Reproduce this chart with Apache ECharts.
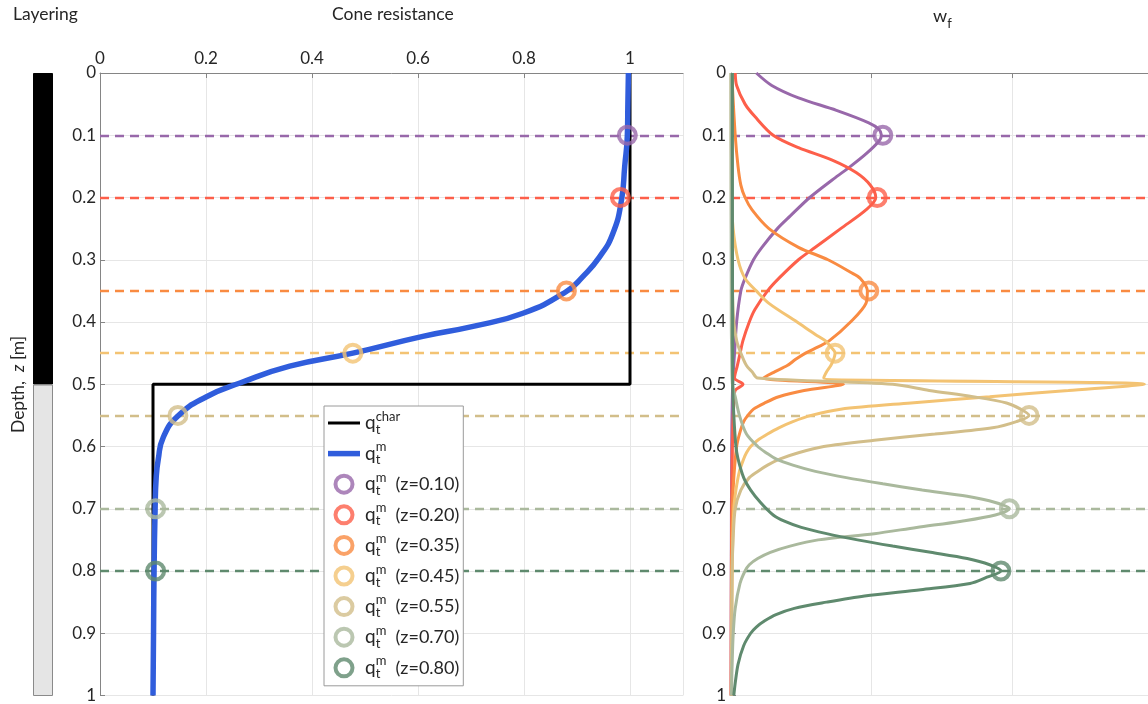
<!DOCTYPE html>
<html><head><meta charset="utf-8">
<script src="https://cdn.jsdelivr.net/npm/echarts@6/dist/echarts.min.js"></script>
<style>html,body{margin:0;padding:0;background:#fff}#c{width:1148px;height:704px}</style>
</head><body><div id="c"></div>
<script>
const FONT = 'Lato, "Open Sans", sans-serif';
const TXT = '#262626';

// ---- Layering (soil layers)
const layerThickness = [0.5, 0.5];
const layerColors = ['#000000', '#e5e5e5'];

// ---- Cone resistance: characteristic profile
const qCharDepth = [0, 0.5, 0.5, 1];
const qCharValue = [1, 1, 0.1, 0.1];

// ---- Cone resistance: measured profile
const qmDepth = [0, 0.05, 0.1, 0.15, 0.204, 0.257, 0.295, 0.327, 0.351, 0.386, 0.407, 0.423, 0.45, 0.471, 0.498, 0.52, 0.551, 0.586, 0.62, 0.65, 0.7, 0.8, 0.9, 1.0];
const qmValue = [0.997, 0.996, 0.995, 0.99, 0.984, 0.968, 0.943, 0.911, 0.880, 0.798, 0.704, 0.609, 0.477, 0.358, 0.264, 0.201, 0.147, 0.119, 0.110, 0.106, 0.104, 0.102, 0.101, 0.100];

// ---- Evaluation depths (markers + dashed lines)
const markerDepth = [0.10, 0.20, 0.35, 0.45, 0.55, 0.70, 0.80];
const markerLabels = ['0.10', '0.20', '0.35', '0.45', '0.55', '0.70', '0.80'];
const markerColors = ['#9868aa', '#fd5f4a', '#f98b42', '#f3c373', '#d2be8a', '#aab99d', '#5f8a6e'];
const markerQm = [0.995, 0.982, 0.880, 0.477, 0.147, 0.105, 0.105];
const markerWf = [1.08, 1.04, 0.98, 0.74, 2.12, 1.98, 1.92];

// ---- Weight functions w_f
const wfDepth010 = [0, 0.02, 0.04, 0.06, 0.08, 0.09, 0.1, 0.11, 0.13, 0.15, 0.17, 0.2, 0.23, 0.25, 0.28, 0.3, 0.33, 0.35, 0.4, 0.45, 0.5, 0.6, 0.8, 1.0];
const wfValue010 = [0.18, 0.29, 0.48, 0.75, 0.98, 1.05, 1.07, 1.05, 0.96, 0.85, 0.73, 0.56, 0.42, 0.33, 0.22, 0.16, 0.10, 0.07, 0.04, 0.025, 0.012, 0.005, 0.002, 0.001];

const wfDepth020 = [0, 0.02, 0.05, 0.07, 0.1, 0.12, 0.14, 0.16, 0.18, 0.2, 0.22, 0.25, 0.28, 0.3, 0.33, 0.35, 0.38, 0.4, 0.43, 0.45, 0.47, 0.49, 0.5, 0.51, 0.53, 0.6, 0.7, 0.85, 1.0];
const wfValue020 = [0.03, 0.04, 0.10, 0.17, 0.30, 0.48, 0.72, 0.89, 0.99, 1.03, 0.96, 0.78, 0.60, 0.48, 0.34, 0.26, 0.17, 0.13, 0.085, 0.065, 0.045, 0.025, 0.085, 0.03, 0.02, 0.01, 0.005, 0.002, 0.001];

const wfDepth035 = [0, 0.1, 0.15, 0.18, 0.2, 0.22, 0.25, 0.28, 0.3, 0.32, 0.33, 0.35, 0.37, 0.4, 0.43, 0.44, 0.45, 0.46, 0.47, 0.48, 0.49, 0.5, 0.51, 0.52, 0.53, 0.54, 0.55, 0.56, 0.58, 0.6, 0.65, 0.7, 0.8, 1.0];
const wfValue035 = [0.005, 0.03, 0.05, 0.07, 0.10, 0.15, 0.27, 0.48, 0.69, 0.85, 0.92, 0.97, 0.96, 0.85, 0.70, 0.62, 0.53, 0.46, 0.40, 0.31, 0.23, 0.80, 0.52, 0.34, 0.24, 0.16, 0.12, 0.09, 0.06, 0.04, 0.02, 0.01, 0.005, 0.002];

const wfDepth045 = [0, 0.2, 0.25, 0.3, 0.33, 0.35, 0.37, 0.4, 0.42, 0.43, 0.44, 0.45, 0.46, 0.47, 0.48, 0.49, 0.5, 0.51, 0.52, 0.53, 0.54, 0.55, 0.56, 0.57, 0.58, 0.59, 0.6, 0.61, 0.62, 0.64, 0.67, 0.7, 0.8, 1.0];
const wfValue045 = [0.002, 0.005, 0.015, 0.05, 0.10, 0.18, 0.27, 0.47, 0.60, 0.67, 0.71, 0.74, 0.73, 0.71, 0.68, 0.66, 2.94, 2.40, 1.84, 1.28, 0.78, 0.57, 0.44, 0.34, 0.26, 0.19, 0.14, 0.11, 0.09, 0.06, 0.035, 0.02, 0.008, 0.003];

const wfDepth055 = [0, 0.3, 0.35, 0.4, 0.43, 0.45, 0.47, 0.48, 0.49, 0.5, 0.51, 0.52, 0.53, 0.54, 0.55, 0.56, 0.57, 0.58, 0.59, 0.6, 0.61, 0.62, 0.63, 0.64, 0.65, 0.67, 0.7, 0.75, 0.8, 1.0];
const wfValue055 = [0.001, 0.004, 0.01, 0.02, 0.04, 0.07, 0.11, 0.15, 0.19, 1.15, 1.41, 1.72, 1.96, 2.06, 2.12, 2.03, 1.86, 1.45, 1.02, 0.66, 0.48, 0.35, 0.26, 0.19, 0.13, 0.07, 0.03, 0.015, 0.008, 0.003];

const wfDepth070 = [0, 0.4, 0.45, 0.5, 0.52, 0.55, 0.58, 0.6, 0.61, 0.62, 0.63, 0.64, 0.65, 0.66, 0.67, 0.68, 0.69, 0.7, 0.71, 0.72, 0.73, 0.74, 0.75, 0.76, 0.77, 0.78, 0.79, 0.8, 0.82, 0.86, 0.9, 0.95, 1.0];
const wfValue070 = [0.0, 0.002, 0.005, 0.01, 0.03, 0.06, 0.11, 0.19, 0.25, 0.32, 0.44, 0.60, 0.82, 1.08, 1.36, 1.68, 1.88, 1.98, 1.88, 1.64, 1.32, 1.02, 0.62, 0.42, 0.28, 0.19, 0.13, 0.10, 0.064, 0.03, 0.016, 0.008, 0.003];

const wfDepth080 = [0, 0.5, 0.55, 0.6, 0.62, 0.65, 0.67, 0.69, 0.71, 0.72, 0.73, 0.74, 0.75, 0.76, 0.77, 0.78, 0.79, 0.8, 0.81, 0.82, 0.83, 0.84, 0.85, 0.86, 0.87, 0.88, 0.89, 0.9, 0.92, 0.95, 0.98, 1.0];
const wfValue080 = [0.01, 0.012, 0.02, 0.035, 0.05, 0.09, 0.14, 0.21, 0.30, 0.38, 0.50, 0.68, 0.90, 1.15, 1.42, 1.68, 1.84, 1.92, 1.82, 1.70, 1.35, 0.95, 0.68, 0.45, 0.32, 0.24, 0.18, 0.14, 0.09, 0.05, 0.03, 0.02];

const wfDepths = [wfDepth010, wfDepth020, wfDepth035, wfDepth045, wfDepth055, wfDepth070, wfDepth080];
const wfValues = [wfValue010, wfValue020, wfValue035, wfValue045, wfValue055, wfValue070, wfValue080];

function zip(xs, ys) { return xs.map((x, i) => [x, ys[i]]); }

const axisLineGray = { show: true, lineStyle: { color: '#858585', width: 1 } };
const splitGray = { show: true, lineStyle: { color: '#e6e6e6', width: 1 } };
const labelStyle = { color: TXT, fontSize: 17, fontFamily: FONT };

const markerNames = markerLabels.map(l => 'qm' + l);

const series = [];
// Layering bars
layerThickness.forEach((t, i) => {
  series.push({
    type: 'bar', name: 'layer' + i, xAxisIndex: 0, yAxisIndex: 0, stack: 'layers',
    barWidth: '100%', data: [t],
    itemStyle: { color: layerColors[i], borderColor: i === 0 ? '#000' : '#8a8a8a', borderWidth: 1 },
    silent: true
  });
});
// characteristic
series.push({
  type: 'line', name: 'qchar', xAxisIndex: 1, yAxisIndex: 1,
  data: zip(qCharValue, qCharDepth), symbol: 'none', showSymbol: false, z: 3,
  lineStyle: { color: '#000', width: 3 }, itemStyle: { color: '#000' }
});
// measured
series.push({
  type: 'line', name: 'qm', xAxisIndex: 1, yAxisIndex: 1,
  data: zip(qmValue, qmDepth), symbol: 'none', showSymbol: false, z: 4, smooth: 0.5,
  lineStyle: { color: '#305ddc', width: 5.5 }, itemStyle: { color: '#305ddc' }
});
// weight functions
wfValues.forEach((vals, i) => {
  series.push({
    type: 'line', name: 'wf' + markerLabels[i], xAxisIndex: 2, yAxisIndex: 2,
    data: zip(vals, wfDepths[i]), symbol: 'none', z: 3, smooth: 0.3,
    lineStyle: { color: markerColors[i], width: 3 }, itemStyle: { color: markerColors[i] }
  });
});
// markers + dashed lines
markerDepth.forEach((z, i) => {
  const mk = (xIdx, val) => ({
    type: 'scatter', name: markerNames[i], xAxisIndex: xIdx, yAxisIndex: xIdx,
    data: [[val, z]], symbol: 'circle', symbolSize: 17, z: 6,
    itemStyle: { color: 'rgba(255,255,255,0)', borderColor: markerColors[i], borderWidth: 4 },
    markLine: {
      silent: true, z: 1, symbol: ['none', 'none'], label: { show: false },
      lineStyle: { color: markerColors[i], type: [9, 6], width: 2.3, opacity: 1 },
      emphasis: { disabled: true },
      data: [{ yAxis: z }]
    }
  });
  series.push(mk(1, markerQm[i]));
  series.push(mk(2, markerWf[i]));
});

const richLegend = {
  q: { fontSize: 19, lineHeight: 26, fontFamily: FONT, color: TXT },
  sub: { fontSize: 13, lineHeight: 13, verticalAlign: 'bottom', width: 0, fontFamily: FONT, color: TXT },
  sup: { fontSize: 13, lineHeight: 13, verticalAlign: 'top', fontFamily: FONT, color: TXT },
  txt: { fontSize: 18, lineHeight: 26, fontFamily: FONT, color: TXT }
};

const legendData = [
  { name: 'qchar', icon: 'path://M0,0L32,0L32,3L0,3Z', itemStyle: { color: '#000' } },
  { name: 'qm', icon: 'path://M0,0L32,0L32,5.5L0,5.5Z', itemStyle: { color: '#305ddc' } }
].concat(markerNames.map((n, i) => ({
  name: n, icon: 'circle',
  itemStyle: { color: 'rgba(255,255,255,0)', borderColor: markerColors[i], borderWidth: 4 }
})));

const chart = echarts.init(document.getElementById('c'), null, { renderer: 'canvas' });
chart.setOption({
  animation: false,
  backgroundColor: '#ffffff',
  textStyle: { fontFamily: FONT },
  title: [
    { text: 'Layering', left: 13, top: 5, padding: 0, textStyle: { fontSize: 17.5, fontWeight: 'normal', color: TXT, fontFamily: FONT } },
    { text: 'Cone resistance', left: 332, top: 5, padding: 0, textStyle: { fontSize: 17.5, fontWeight: 'normal', color: TXT, fontFamily: FONT } },
    { text: '{w|w}{f|f}', left: 933, top: 3, padding: 0, textStyle: { fontWeight: 'normal', rich: {
      w: { fontSize: 18, lineHeight: 27, color: TXT, fontFamily: FONT, fontWeight: 'normal' },
      f: { fontSize: 13, lineHeight: 13, verticalAlign: 'bottom', color: TXT, fontFamily: FONT, fontWeight: 'normal' }
    } } }
  ],
  grid: [
    { left: 33, top: 73, width: 20, height: 623 },
    { left: 100, top: 73, width: 583, height: 623 },
    { left: 731, top: 73, right: 0, height: 623 }
  ],
  xAxis: [
    { gridIndex: 0, type: 'category', data: ['L'], show: false },
    { gridIndex: 1, type: 'value', position: 'top', min: 0, max: 1.1, interval: 0.2,
      axisLine: axisLineGray, axisTick: { show: true, inside: true, length: 5, lineStyle: { color: '#858585' } },
      axisLabel: Object.assign({ margin: 6, showMaxLabel: false }, labelStyle), splitLine: splitGray },
    { gridIndex: 2, type: 'value', position: 'top', min: 0, max: 2.966, interval: 1,
      axisLine: axisLineGray, axisTick: { show: true, inside: true, length: 5, lineStyle: { color: '#858585' } },
      axisLabel: { show: false }, splitLine: splitGray }
  ],
  yAxis: [
    { gridIndex: 0, type: 'value', min: 0, max: 1, inverse: true,
      axisLine: { show: false }, axisTick: { show: false }, axisLabel: { show: false }, splitLine: { show: false },
      name: '{n|Depth,  }{i|z}{n| [m]}', nameLocation: 'middle', nameRotate: 90, nameGap: 6,
      nameTextStyle: { rich: {
        n: { fontSize: 17.5, color: TXT, fontFamily: FONT },
        i: { fontSize: 17.5, color: TXT, fontFamily: FONT, fontStyle: 'italic' }
      } } },
    { gridIndex: 1, type: 'value', min: 0, max: 1, interval: 0.1, inverse: true,
      axisLine: axisLineGray, axisTick: { show: true, inside: true, length: 5, lineStyle: { color: '#858585' } },
      axisLabel: Object.assign({ margin: 4 }, labelStyle), splitLine: splitGray },
    { gridIndex: 2, type: 'value', min: 0, max: 1, interval: 0.1, inverse: true,
      axisLine: axisLineGray, axisTick: { show: true, inside: true, length: 5, lineStyle: { color: '#858585' } },
      axisLabel: Object.assign({ margin: 5 }, labelStyle), splitLine: splitGray }
  ],
  legend: {
    orient: 'vertical', left: 324, top: 406, padding: [4, 4, 5, 4], itemGap: 4.6,
    itemWidth: 32, itemHeight: 17, backgroundColor: '#ffffff', borderColor: '#9a9a9a', borderWidth: 1, borderRadius: 0,
    selectedMode: false, z: 10,
    textStyle: { fontFamily: FONT, fontSize: 18, color: TXT, rich: richLegend },
    formatter: function (name) {
      if (name === 'qchar') return '{q|q}{sub|t}{sup|char}';
      if (name === 'qm') return '{q|q}{sub|t}{sup|m}';
      const l = name.slice(2);
      return '{q|q}{sub|t}{sup|m}{txt|  (z=' + l + ')}';
    },
    data: legendData
  },
  series: series
});
</script></body></html>
